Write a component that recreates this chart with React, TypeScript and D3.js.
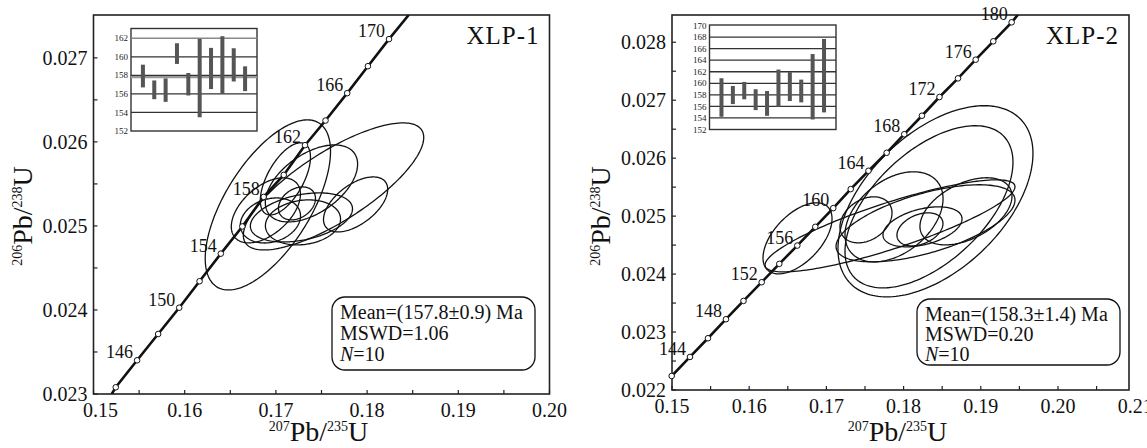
import React from 'react';
import * as d3 from 'd3';

const W = 1147;
const H = 448;
const FONT = "'Liberation Serif', 'Times New Roman', serif";

// ---- XLP-1 ----
const xlp1Ages = [144, 146, 148, 150, 152, 154, 156, 158, 160, 162, 164, 166, 168, 170];
const xlp1ConX = [0.15244, 0.15478, 0.15709, 0.1594, 0.16163, 0.16396, 0.16632, 0.16866, 0.17086, 0.17319, 0.17544, 0.17782, 0.18009, 0.1824];
const xlp1ConY = [0.02308, 0.023401, 0.023714, 0.024027, 0.024342, 0.02467, 0.024994, 0.025345, 0.025607, 0.025961, 0.026254, 0.02658, 0.026901, 0.027223];
const xlp1ConEnds = [[0.152, 0.023], [0.18456, 0.02751]];
const xlp1LabelAges = [146, 150, 154, 158, 162, 166, 170];
const xlp1EllX = [0.16912, 0.17632, 0.17104, 0.1689, 0.1739, 0.17874, 0.1728, 0.17231, 0.1694, 0.17297];
const xlp1EllY = [0.02525, 0.02547, 0.02556, 0.025185, 0.025506, 0.025256, 0.025101, 0.025268, 0.025065, 0.025042];
const xlp1EllSx = [0.00687, 0.00989, 0.00275, 0.00379, 0.00506, 0.00352, 0.0056, 0.00203, 0.0033, 0.00412];
const xlp1EllSy = [0.001012, 0.000756, 0.000429, 0.000387, 0.000458, 0.000327, 0.000292, 0.000196, 0.000268, 0.000268];
const xlp1EllRho = [0.63, 0.77, 0.6, 0.5, 0.5, 0.55, 0.35, 0.3, 0.2, 0.15];
const xlp1BarLo = [156.7, 155.43, 155.14, 159.23, 155.83, 153.48, 156.52, 156.0, 157.34, 156.3];
const xlp1BarHi = [159.15, 157.45, 157.67, 161.46, 158.25, 161.93, 160.96, 162.22, 160.92, 158.97];
const xlp1BarTicks = [152, 154, 156, 158, 160, 162];
const xlp1Stats = ['Mean=(157.8±0.9) Ma', 'MSWD=1.06', '=10'];

// ---- XLP-2 ----
const xlp2Ages = [142, 144, 146, 148, 150, 152, 154, 156, 158, 160, 162, 164, 166, 168, 170, 172, 174, 176, 178, 180];
const xlp2ConX = [0.14996, 0.15233, 0.15466, 0.15699, 0.15926, 0.16162, 0.1639, 0.16623, 0.16856, 0.17089, 0.17315, 0.17545, 0.17781, 0.18009, 0.18238, 0.18465, 0.18705, 0.18934, 0.19162, 0.194];
const xlp2ConY = [0.022242, 0.02257, 0.022893, 0.023221, 0.023537, 0.02386, 0.024176, 0.024492, 0.024815, 0.025138, 0.025466, 0.025782, 0.026093, 0.026413, 0.026732, 0.027055, 0.027377, 0.027699, 0.028016, 0.028344];
const xlp2ConEnds = [[0.14996, 0.022242], [0.19482, 0.028477]];
const xlp2LabelAges = [144, 148, 152, 156, 160, 164, 168, 172, 176, 180];
const xlp2EllX = [0.16626, 0.17824, 0.18413, 0.18329, 0.17876, 0.17513, 0.18245, 0.18212, 0.18808, 0.18284];
const xlp2EllY = [0.024617, 0.024832, 0.025256, 0.025161, 0.024988, 0.024936, 0.024815, 0.024772, 0.025083, 0.024876];
const xlp2EllSx = [0.00447, 0.01619, 0.01263, 0.01088, 0.00635, 0.00337, 0.00512, 0.00298, 0.00596, 0.01159];
const xlp2EllSy = [0.000613, 0.000794, 0.001649, 0.001399, 0.000777, 0.000397, 0.000345, 0.000285, 0.000579, 0.000665];
const xlp2EllRho = [0.55, 0.85, 0.5, 0.55, 0.4, 0.3, 0.4, 0.35, 0.45, 0.6];
const xlp2BarLo = [154.2, 156.4, 157.23, 155.36, 154.37, 155.94, 156.93, 156.7, 153.74, 154.96];
const xlp2BarHi = [160.88, 159.54, 160.24, 158.97, 158.67, 162.38, 161.93, 160.64, 165.07, 167.68];
const xlp2BarTicks = [152, 154, 156, 158, 160, 162, 164, 166, 168, 170];
const xlp2Stats = ['Mean=(158.3±1.4) Ma', 'MSWD=0.20', '=10'];

const ellipsePath = (cx, cy, sx, sy, rho, xs, ys) => {
  const k = Math.sqrt(1 - rho * rho);
  const ts = d3.range(0, 2 * Math.PI, Math.PI / 90);
  return d3.line<number>()
    .x(t => xs(cx + sx * Math.cos(t)))
    .y(t => ys(cy + sy * (rho * Math.cos(t) + k * Math.sin(t))))
    .curve(d3.curveLinearClosed)(ts);
};

const Title = ({ x, y, a, b, rotate }) => (
  <text transform={`translate(${x},${y})${rotate ? ' rotate(-90)' : ''}`} textAnchor="middle" fontFamily={FONT} fill="#111">
    <tspan fontSize={14} dy={-10}>{a}</tspan>
    <tspan fontSize={28} dy={10}>Pb/</tspan>
    <tspan fontSize={14} dy={-10}>{b}</tspan>
    <tspan fontSize={28} dy={10}>U</tspan>
  </text>
);

const Panel = (p) => {
  const xs = d3.scaleLinear().domain(p.xDomain).range([p.left, p.right]);
  const ys = d3.scaleLinear().domain(p.yDomain).range([p.bottom, p.top]);
  const fx = d3.format('.2f');
  const fy = d3.format('.3f');
  const clipId = `clip-${p.name}`;
  const pts = p.conX.map((x, i) => [x, p.conY[i]]);
  const linePts = [p.conEnds[0], ...pts, p.conEnds[1]];
  const line = d3.line<number[]>().x(d => xs(d[0])).y(d => ys(d[1]))(linePts);

  const ins = p.inset;
  const iy = d3.scaleLinear().domain(ins.domain).range([ins.bottom, ins.top]);
  const ix = d3.scalePoint<number>().domain(d3.range(p.barLo.length)).range([ins.left, ins.right]).padding(1.05);

  const tick = 4;
  return (
    <g>
      <defs>
        <clipPath id={clipId}>
          <rect x={p.left} y={p.top} width={p.right - p.left} height={p.bottom - p.top} />
        </clipPath>
      </defs>
      <rect x={p.left} y={p.top} width={p.right - p.left} height={p.bottom - p.top} fill="white" stroke="#222" strokeWidth={1.6} />

      {/* ticks */}
      {[...p.xTicks.filter(t => t <= p.xDomain[1]), ...p.xMinor].map((t, i) => (
        <line key={`xt${i}`} x1={xs(t)} x2={xs(t)} y1={p.bottom} y2={p.bottom - tick} stroke="#222" strokeWidth={1.2} />
      ))}
      {[...p.yTicks, ...p.yMinor].map((t, i) => (
        <line key={`yt${i}`} x1={p.left} x2={p.left + tick} y1={ys(t)} y2={ys(t)} stroke="#222" strokeWidth={1.2} />
      ))}
      {p.xTicks.map((t, i) => (
        <text key={`xl${i}`} x={xs(t) + (i === 0 ? p.firstXDx : 0)} y={p.bottom + 23} textAnchor="middle" fontFamily={FONT} fontSize={20} fill="#111">{fx(t)}</text>
      ))}
      {p.yTicks.map((t, i) => (
        <text key={`yl${i}`} x={p.left - 6} y={ys(t)} dy="0.35em" textAnchor="end" fontFamily={FONT} fontSize={20} fill="#111">{fy(t)}</text>
      ))}

      {/* ellipses */}
      <g clipPath={`url(#${clipId})`}>
        {p.ellX.map((cx, i) => (
          <path key={`e${i}`} d={ellipsePath(cx, p.ellY[i], p.ellSx[i], p.ellSy[i], p.ellRho[i], xs, ys)} fill="none" stroke="#111" strokeWidth={1.3} />
        ))}
        <path d={line} fill="none" stroke="#111" strokeWidth={2.6} />
      </g>
      {pts.map((d, i) => (
        <circle key={`m${i}`} cx={xs(d[0])} cy={ys(d[1])} r={2.8} fill="white" stroke="#111" strokeWidth={1} />
      ))}
      {p.ages.map((a, i) => p.labelAges.includes(a) ? (
        <text key={`a${i}`} x={xs(p.conX[i]) - 4} y={ys(p.conY[i]) - 2} textAnchor="end" fontFamily={FONT} fontSize={18} fill="#111">{a}</text>
      ) : null)}

      {/* inset */}
      <rect x={ins.left} y={ins.top} width={ins.right - ins.left} height={ins.bottom - ins.top} fill="white" stroke="#333" strokeWidth={1.4} />
      {p.barTicks.map((t, i) => (
        <g key={`bt${i}`}>
          {t > ins.domain[0] && t < ins.domain[1] - 0.5 ? (
            <line x1={ins.left} x2={ins.right} y1={iy(t)} y2={iy(t)} stroke={ins.light.includes(t) ? '#888' : '#333'} strokeWidth={1.3} />
          ) : null}
          <text x={ins.left - 3} y={iy(t)} dy="0.35em" textAnchor="end" fontFamily={FONT} fontSize={9} fill="#222">{t}</text>
        </g>
      ))}
      {ins.mean ? <line x1={ins.left} x2={ins.right} y1={iy(ins.mean)} y2={iy(ins.mean)} stroke="#999" strokeWidth={2.2} /> : null}
      {p.barLo.map((lo, i) => (
        <rect key={`b${i}`} x={ix(i) - 2} y={iy(p.barHi[i])} width={4} height={iy(lo) - iy(p.barHi[i])} fill="#555" />
      ))}

      {/* sample name */}
      <text x={p.right - 10} y={p.top + 29} textAnchor="end" fontFamily={FONT} fontSize={25} letterSpacing={1} fill="#111">{p.name}</text>

      {/* stats box */}
      <rect x={p.box.x} y={p.box.y} width={p.box.w} height={p.box.h} rx={13} fill="white" stroke="#111" strokeWidth={1.3} />
      {p.stats.map((s, i) => (
        <text key={`s${i}`} x={p.box.x + 8} y={p.box.y + 22 + i * p.box.lh} fontFamily={FONT} fontSize={20} fill="#111">
          {i === 2 ? <tspan fontStyle="italic">N</tspan> : null}{s}
        </text>
      ))}

      <Title x={(p.left + p.right) / 2 - 3} y={441} a="207" b="235" rotate={false} />
      <Title x={p.yTitleX} y={216} a="206" b="238" rotate={true} />
    </g>
  );
};

export default function App() {
  return (
    <div style={{ position: 'absolute', left: 0, top: 0, background: 'white' }}>
      <svg width={W} height={H} viewBox={`0 0 ${W} ${H}`}>
        <rect width={W} height={H} fill="white" />
        <Panel
          name="XLP-1"
          left={93.5} right={549.5} top={15} bottom={394}
          xDomain={[0.15, 0.2]} yDomain={[0.023, 0.02751]}
          xTicks={[0.15, 0.16, 0.17, 0.18, 0.19, 0.2]}
          xMinor={[0.155, 0.165, 0.175, 0.185, 0.195]}
          yTicks={[0.023, 0.024, 0.025, 0.026, 0.027]}
          yMinor={[0.0235, 0.0245, 0.0255, 0.0265]}
          firstXDx={7}
          ages={xlp1Ages} conX={xlp1ConX} conY={xlp1ConY} conEnds={xlp1ConEnds} labelAges={xlp1LabelAges}
          ellX={xlp1EllX} ellY={xlp1EllY} ellSx={xlp1EllSx} ellSy={xlp1EllSy} ellRho={xlp1EllRho}
          barLo={xlp1BarLo} barHi={xlp1BarHi} barTicks={xlp1BarTicks}
          inset={{ left: 131, right: 257, top: 28.5, bottom: 131, domain: [152, 163.05], mean: 157.8, light: [162] }}
          stats={xlp1Stats}
          box={{ x: 332, y: 297, w: 203, h: 73, lh: 21 }}
          yTitleX={32}
        />
        <Panel
          name="XLP-2"
          left={672} right={1129} top={15} bottom={390}
          xDomain={[0.15, 0.2092]} yDomain={[0.022, 0.02847]}
          xTicks={[0.15, 0.16, 0.17, 0.18, 0.19, 0.2, 0.21]}
          xMinor={[0.155, 0.165, 0.175, 0.185, 0.195, 0.205]}
          yTicks={[0.022, 0.023, 0.024, 0.025, 0.026, 0.027, 0.028]}
          yMinor={[0.0225, 0.0235, 0.0245, 0.0255, 0.0265, 0.0275]}
          firstXDx={0}
          ages={xlp2Ages} conX={xlp2ConX} conY={xlp2ConY} conEnds={xlp2ConEnds} labelAges={xlp2LabelAges}
          ellX={xlp2EllX} ellY={xlp2EllY} ellSx={xlp2EllSx} ellSy={xlp2EllSy} ellRho={xlp2EllRho}
          barLo={xlp2BarLo} barHi={xlp2BarHi} barTicks={xlp2BarTicks}
          inset={{ left: 709.5, right: 836, top: 25, bottom: 129.5, domain: [152, 170.1], mean: null, light: [] }}
          stats={xlp2Stats}
          box={{ x: 917, y: 299, w: 203, h: 66, lh: 20 }}
          yTitleX={610}
        />
      </svg>
    </div>
  );
}
